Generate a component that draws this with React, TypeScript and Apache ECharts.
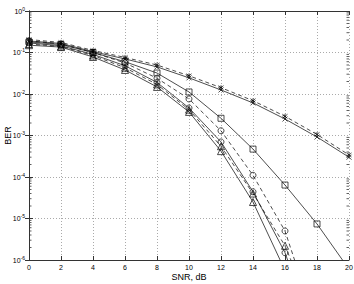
import React, { useEffect, useRef } from "react";
import * as echarts from "echarts";

const snr = [0, 2, 4, 6, 8, 10, 12, 14, 16, 18, 20];
const berCrossSolid = [0.19, 0.165, 0.105, 0.07, 0.045, 0.0245, 0.0125, 0.0061, 0.0025, 0.00092, 0.0003];
const berStarDashed = [0.205, 0.175, 0.112, 0.076, 0.05, 0.0275, 0.0142, 0.0069, 0.0029, 0.00106, 0.00034];
const berSquareSolid = [0.18, 0.155, 0.1, 0.06, 0.032, 0.0112, 0.0026, 0.00047, 0.000064, 0.0000074, 0.0000006];
const berCircleDashed = [0.19, 0.16, 0.1, 0.056, 0.024, 0.0076, 0.0013, 0.00011, 0.000005, 0.000000023, null];
const berCircleSolid = [0.17, 0.145, 0.09, 0.048, 0.019, 0.0046, 0.0007, 0.000044, 0.0000015, 0.00000001, null];
const berTriangleDashed = [0.16, 0.14, 0.085, 0.043, 0.017, 0.0042, 0.00055, 0.00004, 0.0000022, 0.00000003, null];
const berTriangleSolid = [0.15, 0.135, 0.078, 0.038, 0.0148, 0.0037, 0.00042, 0.000025, 0.00000056, null, null];
const minorMantissas = [2, 3, 4, 5, 6, 7, 8, 9];

const FONT = "Liberation Sans";
const AXIS_COLOR = "#333";

function pairs(vals: (number | null)[]) {
  const out: [number, number][] = [];
  vals.forEach((v, i) => {
    if (v !== null) out.push([snr[i], v]);
  });
  return out;
}

const crossPath = "path://M0,0L10,10M10,0L0,10";
const starPath = "path://M0,0L10,10M10,0L0,10M5,-1L5,11";

function lineSeries(name: string, vals: (number | null)[], symbol: string, dashed: boolean, size: number) {
  return {
    name,
    type: "line",
    data: pairs(vals),
    symbol,
    symbolSize: size,
    clip: true,
    lineStyle: { color: "#000", width: 0.7, type: dashed ? [4, 3] : "solid" },
    itemStyle: { color: "none", borderColor: "#000", borderWidth: 0.7 },
    emphasis: { disabled: true },
    z: 3,
  };
}

export default function App() {
  const ref = useRef<HTMLDivElement>(null);
  useEffect(() => {
    if (!ref.current) return;
    const chart = echarts.init(ref.current, null, { renderer: "svg" });
    const minorData: [number, number][] = [];
    for (let e = -6; e < 0; e++) {
      minorMantissas.forEach((m) => minorData.push([0, m * Math.pow(10, e)]));
    }
    chart.setOption({
      animation: false,
      grid: { left: 29, right: 5, top: 11, bottom: 24, show: false, containLabel: false, outerBoundsMode: "none" },
      xAxis: [
        {
          type: "value",
          min: 0,
          max: 20,
          interval: 2,
          position: "bottom",
          name: "SNR, dB",
          nameLocation: "middle",
          nameGap: 12,
          nameMoveOverlap: false,
          nameTextStyle: { fontFamily: FONT, fontSize: 9, color: "#000" },
          axisLine: { show: true, lineStyle: { color: AXIS_COLOR, width: 1 } },
          axisTick: { show: true, inside: true, length: 4, lineStyle: { color: AXIS_COLOR } },
          axisLabel: { fontFamily: FONT, fontSize: 7, color: "#000", margin: 4 },
          splitLine: { show: true, lineStyle: { color: "#aaa", type: [1, 2], width: 1 } },
        },
        {
          type: "value",
          min: 0,
          max: 20,
          interval: 2,
          position: "top",
          axisLine: { show: true, lineStyle: { color: AXIS_COLOR, width: 1 } },
          axisTick: { show: true, inside: true, length: 4, lineStyle: { color: AXIS_COLOR } },
          axisLabel: { show: false },
          splitLine: { show: false },
        },
      ],
      yAxis: [
        {
          type: "log",
          logBase: 10,
          min: 1e-6,
          max: 1,
          interval: 1,
          position: "left",
          name: "BER",
          nameLocation: "middle",
          nameGap: 17,
          nameMoveOverlap: false,
          nameTextStyle: { fontFamily: FONT, fontSize: 9, color: "#000" },
          axisLine: { show: true, lineStyle: { color: AXIS_COLOR, width: 1 } },
          axisTick: { show: true, inside: true, length: 4, lineStyle: { color: AXIS_COLOR } },
          axisLabel: {
            fontFamily: FONT,
            color: "#000",
            margin: 4,
            formatter: (v: number) => {
              const e = Math.round(Math.log10(v));
              return `{b|10}{s|${e}}`;
            },
            rich: {
              b: { fontFamily: FONT, fontSize: 7, color: "#000" },
              s: { fontFamily: FONT, fontSize: 5, color: "#000", verticalAlign: "top", padding: [0, 0, 5, 0] },
            },
          },
          splitLine: { show: true, lineStyle: { color: "#aaa", type: [1, 2], width: 1 } },
        },
        {
          type: "log",
          logBase: 10,
          min: 1e-6,
          max: 1,
          interval: 1,
          position: "right",
          axisLine: { show: true, lineStyle: { color: AXIS_COLOR, width: 1 } },
          axisTick: { show: true, inside: true, length: 4, lineStyle: { color: AXIS_COLOR } },
          axisLabel: { show: false },
          splitLine: { show: false },
        },
      ],
      series: [
        lineSeries("cross", berCrossSolid, crossPath, false, 5),
        lineSeries("star", berStarDashed, starPath, true, 5),
        lineSeries("square", berSquareSolid, "rect", false, 6),
        lineSeries("circleDashed", berCircleDashed, "circle", true, 6),
        lineSeries("circleSolid", berCircleSolid, "circle", false, 6),
        lineSeries("triangleDashed", berTriangleDashed, "triangle", true, 7),
        lineSeries("triangleSolid", berTriangleSolid, "triangle", false, 7),
        {
          type: "custom",
          silent: true,
          data: minorData,
          clip: false,
          z: 5,
          renderItem: (params: any, api: any) => {
            const y = api.coord([0, api.value(1)])[1];
            const cs = params.coordSys;
            const st = { stroke: AXIS_COLOR, lineWidth: 0.8 };
            return {
              type: "group",
              children: [
                { type: "line", shape: { x1: cs.x, y1: y, x2: cs.x + 2.5, y2: y }, style: st },
                { type: "line", shape: { x1: cs.x + cs.width - 2.5, y1: y, x2: cs.x + cs.width, y2: y }, style: st },
              ],
            };
          },
        },
      ],
    });
    return () => chart.dispose();
  }, []);
  return (
    <div
      ref={ref}
      style={{ position: "fixed", left: 0, top: 0, width: 354, height: 284, background: "#fff" }}
    />
  );
}
